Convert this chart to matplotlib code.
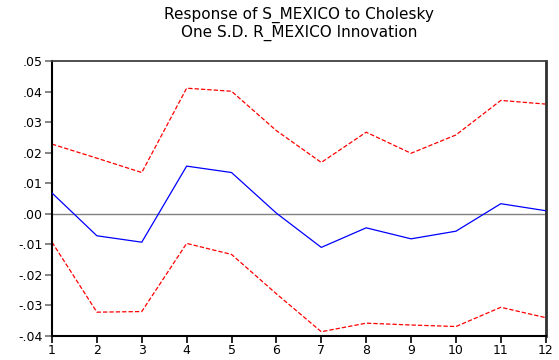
import matplotlib
matplotlib.use("Agg")
import matplotlib.pyplot as plt
from matplotlib.ticker import FuncFormatter, MultipleLocator

periods = [1, 2, 3, 4, 5, 6, 7, 8, 9, 10, 11, 12]
response = [0.0068, -0.0072, -0.0093, 0.0156, 0.0135, 0.0002, -0.0110, -0.0046, -0.0082, -0.0057, 0.0033, 0.0010]
upper = [0.0228, 0.0182, 0.0135, 0.0411, 0.0401, 0.0272, 0.0168, 0.0267, 0.0198, 0.0258, 0.0371, 0.0359]
lower = [-0.0093, -0.0322, -0.0320, -0.0097, -0.0133, -0.0262, -0.0386, -0.0358, -0.0364, -0.0369, -0.0306, -0.0340]
title_lines = ["Response of S_MEXICO to Cholesky", "One S.D. R_MEXICO Innovation"]

plt.rcParams['font.family'] = ['DejaVu Sans']

fig = plt.figure(figsize=(5.59, 3.60), dpi=100)
ax = fig.add_axes([52/559, 1-336/360, (545.7-52)/559, (336-61)/360])

ax.axhline(0, color='#808080', lw=1.0, zorder=1)
ax.plot(periods, upper, color='#ff0000', lw=0.9, dashes=(3.5, 1.6), zorder=2)
ax.plot(periods, lower, color='#ff0000', lw=0.9, dashes=(3.5, 1.6), zorder=2)
ax.plot(periods, response, color='#0000ff', lw=0.9, zorder=3)

ax.set_xlim(1, 12)
ax.set_ylim(-0.04, 0.05)
ax.set_xticks(periods)
ax.yaxis.set_major_locator(MultipleLocator(0.01))

def fmt(v, pos):
    s = "%.2f" % v
    if s.startswith("-0"):
        s = "-" + s[2:]
    elif s.startswith("0"):
        s = s[1:]
    if s == "-.00":
        s = ".00"
    return s
ax.yaxis.set_major_formatter(FuncFormatter(fmt))

ax.tick_params(axis='both', direction='out', length=5, width=1.2, labelsize=9, colors='#000000')
ax.tick_params(axis='y', color='#707070', pad=2)
ax.tick_params(axis='x', pad=1)

ax.spines['left'].set_linewidth(1.5)
ax.spines['left'].set_color('#000000')
ax.spines['bottom'].set_linewidth(1.5)
ax.spines['bottom'].set_color('#000000')
ax.spines['top'].set_linewidth(1.3)
ax.spines['top'].set_color('#404040')
ax.spines['right'].set_linewidth(2.0)
ax.spines['right'].set_color('#303030')

cx = (52 + 545.7) / 2 / 559
fig.text(cx, 1-15/360, title_lines[0], ha='center', va='center', fontsize=11)
fig.text(cx, 1-32.5/360, title_lines[1], ha='center', va='center', fontsize=11)

fig.savefig("out.png", dpi=100)
